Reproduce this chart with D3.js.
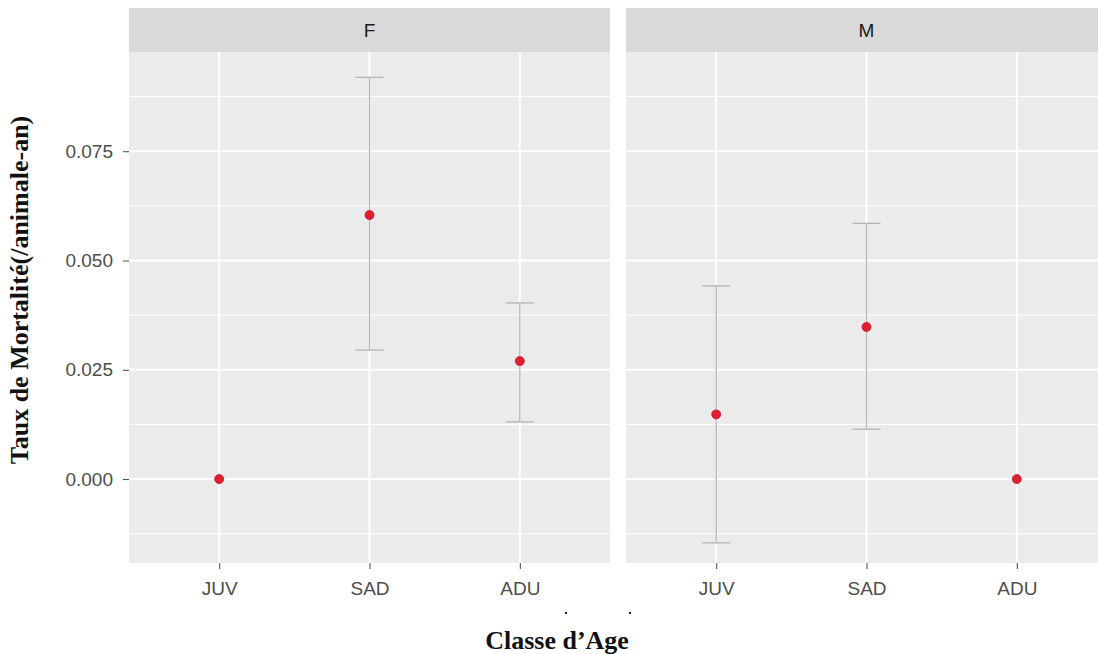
<!DOCTYPE html>
<html>
<head>
<meta charset="utf-8">
<script src="https://cdn.jsdelivr.net/npm/d3@7"></script>
<style>
  body { margin: 0; background: #fff; }
  svg { display: block; }
</style>
</head>
<body>
<svg width="1098" height="654"></svg>
<script>
// facets and age classes
var panels = ['F', 'M'];
var classes = ['JUV', 'SAD', 'ADU'];

// mortality rate (/animal-year) and interval bounds, per facet
var rateF = [0.0000, 0.0604, 0.0270];
var lowF  = [null,   0.0295, 0.0131];
var highF = [null,   0.0919, 0.0403];

var rateM = [0.0148, 0.0348, 0.0000];
var lowM  = [-0.0146, 0.0114, null];
var highM = [0.0442,  0.0585, null];

var yTicks = [0, 0.025, 0.05, 0.075];
var yMinor = [-0.0125, 0.0125, 0.0375, 0.0625, 0.0875];

var series = {
  F: { rate: rateF, low: lowF, high: highF },
  M: { rate: rateM, low: lowM, high: highM }
};

var svg = d3.select('svg');

var panelW = 481, gap = 16;
var left = 129, stripTop = 8, stripH = 44, plotTop = 52, plotBottom = 563;
var sans = 'Liberation Sans, Arial, sans-serif';
var serif = 'Liberation Serif, Times New Roman, serif';

var y = d3.scaleLinear().domain([-0.0192, 0.0977]).range([plotBottom, plotTop]);

var x = d3.scalePoint().domain(classes).range([0, panelW]).padding(0.6);

panels.forEach(function(p, pi) {
  var g = svg.append('g').attr('transform', 'translate(' + (left + pi * (panelW + gap)) + ',0)');
  var s = series[p];

  // strip
  g.append('rect').attr('x', 0).attr('y', stripTop).attr('width', panelW).attr('height', stripH)
    .attr('fill', '#d9d9d9');
  g.append('text').attr('x', panelW / 2).attr('y', stripTop + stripH / 2 + 7)
    .attr('text-anchor', 'middle').attr('font-family', sans)
    .attr('font-size', 19).attr('fill', '#1a1a1a').text(p);

  // panel background
  g.append('rect').attr('x', 0).attr('y', plotTop).attr('width', panelW).attr('height', plotBottom - plotTop)
    .attr('fill', '#ebebeb');

  g.selectAll('.minor').data(yMinor).enter().append('line')
    .attr('x1', 0).attr('x2', panelW)
    .attr('y1', function(d) { return y(d); }).attr('y2', function(d) { return y(d); })
    .attr('stroke', '#fff').attr('stroke-width', 1);

  g.selectAll('.major').data(yTicks).enter().append('line')
    .attr('x1', 0).attr('x2', panelW)
    .attr('y1', function(d) { return y(d); }).attr('y2', function(d) { return y(d); })
    .attr('stroke', '#fff').attr('stroke-width', 2);

  g.selectAll('.vgrid').data(classes).enter().append('line')
    .attr('x1', function(d) { return x(d); }).attr('x2', function(d) { return x(d); })
    .attr('y1', plotTop).attr('y2', plotBottom)
    .attr('stroke', '#fff').attr('stroke-width', 2);

  // x axis
  var xa = g.append('g').attr('transform', 'translate(0,' + plotBottom + ')')
    .call(d3.axisBottom(x).tickSize(6).tickPadding(13));
  xa.select('.domain').remove();
  xa.selectAll('line').attr('stroke', '#444');
  xa.selectAll('text').attr('font-family', sans)
    .attr('font-size', 19).attr('fill', '#4d4d4d');

  // error bars
  var rows = classes.map(function(c, i) {
    return { c: c, rate: s.rate[i], low: s.low[i], high: s.high[i] };
  });
  var eb = rows.filter(function(d) { return d.low !== null; });
  g.selectAll('.eb').data(eb).enter().append('line')
    .attr('x1', function(d) { return x(d.c); }).attr('x2', function(d) { return x(d.c); })
    .attr('y1', function(d) { return y(d.low); }).attr('y2', function(d) { return y(d.high); })
    .attr('stroke', '#b4b4b4').attr('stroke-width', 1.3);
  ['low', 'high'].forEach(function(k) {
    g.selectAll('.cap' + k).data(eb).enter().append('line')
      .attr('x1', function(d) { return x(d.c) - 14; }).attr('x2', function(d) { return x(d.c) + 14; })
      .attr('y1', function(d) { return y(d[k]); }).attr('y2', function(d) { return y(d[k]); })
      .attr('stroke', '#b4b4b4').attr('stroke-width', 1.3);
  });

  g.selectAll('.pt').data(rows).enter().append('circle')
    .attr('cx', function(d) { return x(d.c); }).attr('cy', function(d) { return y(d.rate); })
    .attr('r', 4.5).attr('fill', '#e0202e').attr('stroke', '#c8102a').attr('stroke-width', 0.8);
});

// y axis on left panel
var ya = svg.append('g').attr('transform', 'translate(' + left + ',0)')
  .call(d3.axisLeft(y).tickValues(yTicks).tickFormat(d3.format('.3f')).tickSize(6).tickPadding(10));
ya.select('.domain').remove();
ya.selectAll('line').attr('stroke', '#444');
ya.selectAll('text').attr('font-family', sans)
  .attr('font-size', 19).attr('fill', '#4d4d4d');

// axis titles
svg.append('text').attr('transform', 'translate(28,290) rotate(-90)')
  .attr('text-anchor', 'middle').attr('font-family', serif)
  .attr('font-weight', 'bold').attr('font-size', 26).attr('fill', '#111')
  .text('Taux de Mortalité(/animale-an)');

svg.append('text').attr('x', 557).attr('y', 649)
  .attr('text-anchor', 'middle').attr('font-family', serif)
  .attr('font-weight', 'bold').attr('font-size', 26).attr('fill', '#111')
  .text('Classe d\u2019Age');

svg.selectAll('.dot').data([566, 630]).enter().append('circle')
  .attr('cx', function(d) { return d; }).attr('cy', 613).attr('r', 1.2).attr('fill', '#222');
</script>
</body>
</html>
